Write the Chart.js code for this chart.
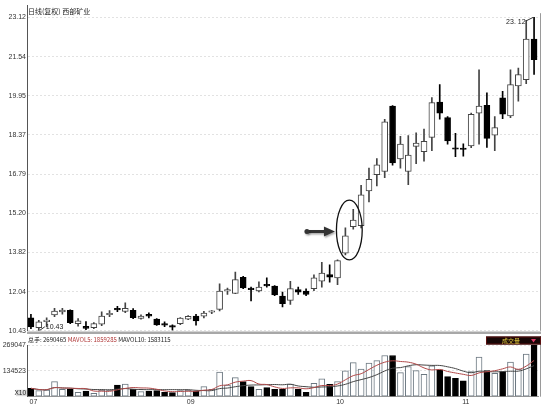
<!DOCTYPE html>
<html>
<head>
<meta charset="utf-8">
<script src="https://cdn.jsdelivr.net/npm/chart.js@4.4.1/dist/chart.umd.min.js"></script>
<style>
html, body { margin: 0; padding: 0; background: #fff; }
#wrap { position: relative; width: 552px; height: 412px; }
#priceBox { position: absolute; left: 0; top: 0; width: 552px; height: 336px; }
#volBox { position: absolute; left: 0; top: 336px; width: 552px; height: 76px; }
</style>
</head>
<body>
<div id="wrap">
  <div id="priceBox"><canvas id="priceChart"></canvas></div>
  <div id="volBox"><canvas id="volChart"></canvas></div>
</div>
<script>
// daily candles, 西部矿业 (adjusted)
const opens  = [10.96,10.56,10.80,11.07,11.19,11.26,10.72,10.61,10.56,10.70,11.08,11.31,11.21,11.26,10.93,11.10,10.90,10.72,10.60,10.72,
                10.90,11.03,11.02,11.18,11.30,12.04,11.94,12.60,12.12,12.04,12.30,12.24,11.84,11.66,12.10,12.04,12.14,12.44,12.71,12.57,
                13.57,14.65,14.69,16.09,16.75,16.88,19.53,17.39,16.88,17.90,17.68,18.26,19.69,19.06,17.80,17.78,17.92,19.24,19.56,18.35,
                19.86,19.13,20.35,20.60,22.24]
const highs  = [11.10,10.85,10.96,11.34,11.34,11.28,10.92,10.80,10.76,11.20,11.25,11.42,11.56,11.33,11.08,11.16,10.92,10.79,10.67,10.97,
                11.05,11.10,11.22,11.25,12.33,12.16,12.81,12.64,12.20,12.41,12.57,12.26,12.00,12.43,12.20,12.13,12.70,13.20,13.10,13.30,
                14.60,15.35,16.32,17.02,17.40,18.99,19.55,18.30,18.33,18.45,18.60,19.87,20.40,19.10,18.43,18.00,19.25,21.00,20.07,19.10,
                20.13,21.00,21.07,23.00,23.12]
const lows   = [10.52,10.43,10.59,11.00,11.10,10.72,10.62,10.48,10.52,10.64,11.00,11.20,11.16,10.92,10.90,10.95,10.65,10.60,10.46,10.68,
                10.88,10.66,10.95,11.12,11.23,11.90,11.93,12.14,11.64,12.00,12.20,11.85,11.40,11.50,11.90,11.85,12.05,12.20,12.40,12.30,
                13.50,14.55,14.60,15.65,16.30,16.63,17.14,17.02,16.35,17.20,17.30,17.72,19.00,17.99,17.48,17.50,17.85,17.99,17.86,17.72,
                19.02,19.06,19.73,20.44,20.81]
const closes = [10.59,10.79,10.82,11.23,11.27,10.76,10.83,10.53,10.72,11.03,11.10,11.28,11.34,10.96,11.03,11.02,10.67,10.66,10.58,10.94,
                11.02,10.83,11.15,11.20,12.04,12.06,12.50,12.17,12.10,12.20,12.25,11.88,11.53,12.14,11.99,11.90,12.57,12.77,12.60,13.27,
                14.28,14.91,15.94,16.56,17.15,18.89,17.23,17.99,17.55,18.03,18.10,19.67,19.24,18.12,17.78,17.77,19.20,19.53,18.22,18.66,
                19.20,20.40,20.80,22.24,21.41]
// volume, x10 hands
const volumes = [43900,31300,35000,78400,38700,38700,23000,29800,17800,35000,35000,61100,66300,40200,26100,29800,31300,23000,20900,31300,
                 35000,29800,52200,38700,127500,61100,99300,78400,52200,38700,47000,38700,38700,66300,38700,23000,70000,92500,64800,78400,
                 134300,177600,143100,174500,188100,214200,214200,125400,156700,135800,117000,160400,139500,104500,96100,82000,130600,205800,135800,122200,
                 130600,179700,143100,221500,269047]

const priceTickLabels = ['10.43','12.04','13.82','15.20','16.79','18.37','19.95','21.54','23.12']
const priceLow = 10.43, priceHigh = 23.12, priceTop = 23.614
const volTickLabels = ['X10','134523','269047']
const volMax = 269047
const monthNames = ['07','09','10','11']
const monthAt = [0, 20, 39, 55]

const titleText = '日线(复权) 西部矿业'
const volHeader = [['总手: 2690465 ', '#222'], ['MAVOL5: 1859285 ', '#b03838'], ['MAVOL10: 1583115', '#222']]

const dayLabels = opens.map(() => '')
monthAt.forEach((k, j) => { dayLabels[k] = monthNames[j] })

const isUp = (i) => closes[i] >= opens[i]
const maOf = (arr, p) => arr.map((_, i) => {
  const s = arr.slice(Math.max(0, i - p + 1), i + 1)
  return s.reduce((a, b) => a + b, 0) / s.length
})

const numFont = { family: 'Liberation Sans', size: 7 }
const fixWidth = (s) => { s.width = 27 }

const priceDecor = {
  id: 'priceDecor',
  afterDraw(chart) {
    const { ctx, chartArea: a, scales: { x, y } } = chart
    ctx.save()
    // title
    ctx.fillStyle = '#222'
    ctx.font = '7px "Noto Sans CJK SC"'
    ctx.textBaseline = 'middle'
    ctx.textAlign = 'left'
    ctx.fillText(titleText, a.left + 1, 11)
    // right frame + bottom separator
    ctx.strokeStyle = '#9a9a9a'
    ctx.lineWidth = 1
    ctx.beginPath()
    ctx.moveTo(a.right + 2.5, a.top + 8)
    ctx.lineTo(a.right + 2.5, a.bottom)
    ctx.stroke()
    ctx.fillStyle = '#a8a8a8'
    ctx.fillRect(a.left, a.bottom + 0.7, a.right + 3 - a.left, 2.5)

    // highest / lowest markers
    const hi = highs.indexOf(Math.max(...highs))
    const lo = lows.indexOf(Math.min(...lows))
    const hx = x.getPixelForValue(hi), hy = y.getPixelForValue(highs[hi])
    const lx = x.getPixelForValue(lo), ly = y.getPixelForValue(lows[lo])
    ctx.strokeStyle = '#333'
    ctx.beginPath()
    ctx.moveTo(hx - 1, hy); ctx.lineTo(hx - 8, hy + 3.5)
    ctx.moveTo(lx + 1, ly - 0.5); ctx.lineTo(lx + 6, ly - 4)
    ctx.stroke()
    ctx.fillStyle = '#222'
    ctx.font = '7px "Liberation Sans"'
    ctx.textAlign = 'right'
    ctx.fillText(highs[hi].toFixed(2).replace('.', '. '), hx - 8.5, hy + 5)
    ctx.textAlign = 'left'
    ctx.fillText(lows[lo].toFixed(2), lx + 7, ly - 4)

    // oval round the breakout candles and the arrow
    const pitch = x.getPixelForValue(1) - x.getPixelForValue(0)
    const cx = (x.getPixelForValue(40) + x.getPixelForValue(41)) / 2
    const yTop = y.getPixelForValue(15.72), yBot = y.getPixelForValue(13.30)
    const rx = pitch * 1.64, ry = (yBot - yTop) / 2
    ctx.strokeStyle = '#111'
    ctx.lineWidth = 1.3
    ctx.beginPath()
    ctx.ellipse(cx, (yTop + yBot) / 2, rx, ry, 0, 0, Math.PI * 2)
    ctx.stroke()

    const tipX = cx - rx - 1.5, ay = y.getPixelForValue(14.45)
    const tailX = tipX - 28
    ctx.shadowColor = 'rgba(0,0,0,0.35)'
    ctx.shadowBlur = 2
    ctx.shadowOffsetX = 1
    ctx.shadowOffsetY = 1.5
    ctx.strokeStyle = '#333'
    ctx.fillStyle = '#333'
    ctx.lineWidth = 3
    ctx.beginPath()
    ctx.moveTo(tailX, ay); ctx.lineTo(tipX - 9, ay)
    ctx.stroke()
    ctx.beginPath()
    ctx.arc(tailX, ay, 2.5, 0, Math.PI * 2)
    ctx.fill()
    ctx.beginPath()
    ctx.moveTo(tipX, ay); ctx.lineTo(tipX - 11, ay - 5); ctx.lineTo(tipX - 11, ay + 5)
    ctx.closePath()
    ctx.fill()
    ctx.restore()
  }
}

const volDecor = {
  id: 'volDecor',
  afterDraw(chart) {
    const { ctx, chartArea: a } = chart
    ctx.save()
    ctx.textBaseline = 'middle'
    ctx.textAlign = 'left'
    let tx = a.left + 1
    volHeader.forEach(([t, c]) => {
      ctx.font = '6px "Noto Sans CJK SC"'
      ctx.fillStyle = c
      ctx.fillText(t, tx, 4)
      tx += ctx.measureText(t).width
    })
    // unit box
    ctx.fillStyle = '#dcdcdc'
    ctx.fillRect(a.left - 11, a.bottom - 7, 11, 6.5)
    ctx.fillStyle = '#222'
    ctx.font = '6.5px "Liberation Sans"'
    ctx.textAlign = 'right'
    ctx.fillText(volTickLabels[0], a.left - 1, a.bottom - 3.7)
    // right frame
    ctx.strokeStyle = '#9a9a9a'
    ctx.lineWidth = 1
    ctx.beginPath()
    ctx.moveTo(a.right + 2.5, 0)
    ctx.lineTo(a.right + 2.5, a.bottom)
    ctx.stroke()
    // 成交量 button
    const bx = a.right - 52
    ctx.fillStyle = '#160606'
    ctx.fillRect(bx, 0.5, a.right + 3 - bx, 8)
    ctx.strokeStyle = '#5a1010'
    ctx.strokeRect(bx + 0.5, 1, a.right + 2 - bx, 7)
    ctx.fillStyle = '#e8d040'
    ctx.font = '6px "Noto Sans CJK SC"'
    ctx.textAlign = 'center'
    ctx.fillText('成交量', bx + 25, 4.7)
    ctx.fillStyle = '#e03a6a'
    ctx.beginPath()
    ctx.moveTo(a.right - 7, 3); ctx.lineTo(a.right - 2, 3); ctx.lineTo(a.right - 4.5, 6.5)
    ctx.closePath()
    ctx.fill()
    ctx.restore()
  }
}

new Chart(document.getElementById('priceChart'), {
  type: 'bar',
  data: {
    labels: dayLabels,
    datasets: [
      {
        data: lows.map((l, i) => [l, highs[i]]),
        backgroundColor: opens.map((_, i) => isUp(i) ? '#444' : '#000'),
        barThickness: 1,
        grouped: false,
        order: 2
      },
      {
        data: opens.map((o, i) => [o, closes[i]]),
        backgroundColor: opens.map((_, i) => isUp(i) ? '#fff' : '#000'),
        borderColor: opens.map((_, i) => isUp(i) ? '#444' : '#000'),
        borderWidth: 1,
        borderSkipped: false,
        barThickness: 6,
        minBarLength: 1.5,
        grouped: false,
        order: 1
      }
    ]
  },
  options: {
    responsive: true,
    maintainAspectRatio: false,
    animation: false,
    events: [],
    layout: { padding: { top: 5, bottom: 2.7, left: 0, right: 14 } },
    plugins: { legend: { display: false }, tooltip: { enabled: false } },
    scales: {
      x: { type: 'category', display: false, offset: true },
      y: {
        min: priceLow,
        max: priceTop,
        afterFit: fixWidth,
        afterBuildTicks: (s) => {
          const step = (priceHigh - priceLow) / (priceTickLabels.length - 1)
          s.ticks = priceTickLabels.map((_, i) => ({ value: priceLow + i * step }))
        },
        ticks: {
          callback: (v, i) => priceTickLabels[i],
          font: numFont,
          color: '#333',
          padding: 1
        },
        grid: { color: '#e2e2e2', drawTicks: false },
        border: { color: '#555', width: 1, dash: [2, 2] }
      }
    }
  },
  plugins: [priceDecor]
})

new Chart(document.getElementById('volChart'), {
  type: 'bar',
  data: {
    labels: dayLabels,
    datasets: [
      {
        type: 'line',
        data: maOf(volumes, 5),
        borderColor: '#b04848',
        borderWidth: 1,
        pointRadius: 0,
        tension: 0.4,
        order: 0
      },
      {
        type: 'line',
        data: maOf(volumes, 10),
        borderColor: '#444',
        borderWidth: 1,
        pointRadius: 0,
        tension: 0.4,
        order: 0
      },
      {
        data: volumes,
        backgroundColor: volumes.map((_, i) => isUp(i) ? '#fff' : '#000'),
        borderColor: volumes.map((_, i) => isUp(i) ? '#6b7780' : '#000'),
        borderWidth: 1,
        borderSkipped: false,
        barThickness: 6,
        grouped: false,
        order: 1
      }
    ]
  },
  options: {
    responsive: true,
    maintainAspectRatio: false,
    animation: false,
    events: [],
    layout: { padding: { top: 9, bottom: 0, left: 0, right: 14 } },
    plugins: { legend: { display: false }, tooltip: { enabled: false } },
    scales: {
      x: {
        type: 'category',
        offset: true,
        afterFit: (s) => { s.height = 15.3 },
        ticks: { autoSkip: false, maxRotation: 0, font: numFont, color: '#333', padding: 1, labelOffset: 2.5 },
        grid: { display: false, drawTicks: false },
        border: { color: '#999' }
      },
      y: {
        min: 0,
        max: volMax,
        afterFit: fixWidth,
        afterBuildTicks: (s) => {
          s.ticks = volTickLabels.map((_, i) => ({ value: volMax * i / (volTickLabels.length - 1) }))
        },
        ticks: {
          callback: (v, i) => i === 0 ? '' : volTickLabels[i],
          font: numFont,
          color: '#333',
          padding: 1
        },
        grid: { color: (c) => c.index === 0 ? 'rgba(0,0,0,0)' : '#e2e2e2', drawTicks: false },
        border: { color: '#555', width: 1, dash: [2, 2] }
      }
    }
  },
  plugins: [volDecor]
})
</script>
</body>
</html>
